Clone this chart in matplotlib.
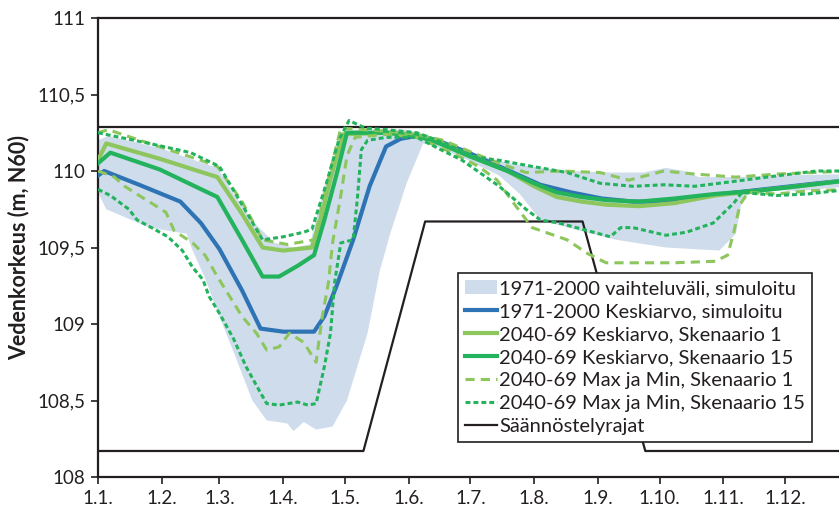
import matplotlib
matplotlib.use("Agg")
import matplotlib.pyplot as plt
from matplotlib.patches import Patch
from matplotlib.lines import Line2D

plt.rcParams['font.family'] = ['Lato', 'DejaVu Sans']

# paivat vuoden alusta (0 = 1.1.)
kk_alku = [0, 31, 59, 90, 120, 151, 181, 212, 243, 273, 304, 334]
kk_nimet = ['1.1.', '1.2.', '1.3.', '1.4.', '1.5.', '1.6.', '1.7.', '1.8.', '1.9.', '1.10.', '1.11.', '1.12.']
y_tikit = [108, 108.5, 109, 109.5, 110, 110.5, 111]
y_nimet = ['108', '108,5', '109', '109,5', '110', '110,5', '111']

# 1971-2000 vaihteluvali (ylaraja / alaraja)
band_ylä_pv = [0, 5, 30, 47, 58, 66, 76, 86, 95, 103, 110, 120, 150, 158, 170, 185, 200, 215, 230, 250,
               265, 276, 285, 292, 310, 330, 365]
band_ylä = [110.2, 110.23, 110.15, 110.07, 110.02, 109.85, 109.66, 109.53, 109.5, 109.52, 109.9, 110.27,
            110.27, 110.24, 110.18, 110.10, 110.05, 110.02, 110.0, 109.99, 109.99, 110.02, 110.0, 109.96,
            109.96, 109.97, 109.98]
band_ala_pv = [0, 4, 25, 43, 46, 52, 59, 67, 75, 82, 92, 95, 100, 106, 114, 121, 126, 131, 137, 142, 150,
               158, 165, 180, 195, 205, 215, 234, 252, 276, 302, 310, 313, 318, 340, 365]
band_ala = [109.86, 109.75, 109.63, 109.59, 109.48, 109.3, 109.05, 108.78, 108.50, 108.37, 108.35, 108.3,
            108.36, 108.31, 108.33, 108.50, 108.72, 108.94, 109.35, 109.59, 109.92, 110.18, 110.16, 110.07,
            109.97, 109.85, 109.68, 109.61, 109.55, 109.50, 109.48, 109.59, 109.81, 109.88, 109.87, 109.90]

# 1971-2000 keskiarvo
sin_pv = [0, 3, 20, 40, 50, 59, 70, 79, 90, 105, 110, 116, 124, 132, 140, 147, 155, 165, 180, 200, 215,
          230, 245, 260, 275, 290, 310, 330, 350, 365]
sin_arvo = [109.97, 110.0, 109.91, 109.80, 109.66, 109.49, 109.22, 108.97, 108.95, 108.95, 109.05, 109.25,
            109.55, 109.90, 110.16, 110.21, 110.23, 110.2, 110.12, 110.0, 109.91, 109.86, 109.82, 109.80,
            109.80, 109.83, 109.86, 109.89, 109.92, 109.94]

# 2040-69 keskiarvo, skenaario 1
vih1_pv = [0, 4, 30, 58, 70, 80, 90, 104, 108, 113, 119, 140, 155, 166, 180, 199, 212, 223, 235, 247, 263,
           280, 300, 320, 340, 365]
vih1_arvo = [110.07, 110.18, 110.08, 109.96, 109.72, 109.50, 109.48, 109.50, 109.68, 109.95, 110.24, 110.25,
             110.23, 110.19, 110.10, 110.0, 109.90, 109.83, 109.80, 109.78, 109.77, 109.79, 109.84, 109.87,
             109.90, 109.94]

# 2040-69 keskiarvo, skenaario 15
vih15_pv = [0, 6, 30, 58, 70, 80, 88, 97, 105, 110, 116, 121, 140, 155, 166, 180, 199, 212, 223, 235, 247,
            263, 280, 300, 320, 340, 365]
vih15_arvo = [110.05, 110.12, 110.01, 109.83, 109.55, 109.31, 109.31, 109.38, 109.45, 109.68, 109.98,
              110.25, 110.25, 110.23, 110.18, 110.10, 110.0, 109.92, 109.86, 109.83, 109.81, 109.80, 109.82,
              109.85, 109.87, 109.90, 109.94]

# 2040-69 max ja min, skenaario 1
max1_pv = [0, 5, 25, 50, 58, 70, 80, 92, 105, 112, 118, 140, 155, 168, 182, 195, 208, 225, 244, 258, 275,
           290, 310, 330, 365]
max1_arvo = [110.25, 110.27, 110.18, 110.07, 110.03, 109.8, 109.55, 109.52, 109.55, 109.95, 110.28, 110.26,
             110.24, 110.2, 110.12, 110.05, 109.99, 110.0, 109.99, 109.94, 110.0, 109.98, 109.96, 109.98, 110.0]
min1_pv = [0, 8, 13, 20, 26, 33, 37, 46, 52, 58, 64, 70, 77, 82, 88, 93, 100, 106, 109, 112, 114, 118, 121,
           125, 140, 155, 172, 185, 194, 202, 211, 228, 238, 247, 263, 280, 300, 306, 309, 312, 316, 330,
           345, 365]
min1_arvo = [110.0, 109.96, 109.9, 109.84, 109.79, 109.73, 109.61, 109.53, 109.45, 109.31, 109.18, 109.05,
             108.94, 108.83, 108.85, 108.94, 108.88, 108.75, 109.05, 109.27, 109.53, 109.84, 110.1, 110.22,
             110.24, 110.22, 110.12, 110.03, 109.94, 109.79, 109.63, 109.55, 109.46, 109.40, 109.40, 109.40,
             109.41, 109.45, 109.6, 109.78, 109.86, 109.85, 109.87, 109.88]

# 2040-69 max ja min, skenaario 15
max15_pv = [0, 25, 45, 59, 70, 80, 90, 100, 104, 111, 117, 122, 130, 140, 155, 165, 184, 195, 211, 228,
            244, 260, 275, 290, 308, 325, 349, 365]
max15_arvo = [110.25, 110.18, 110.12, 110.03, 109.78, 109.55, 109.57, 109.60, 109.62, 109.92, 110.2,
              110.33, 110.28, 110.27, 110.25, 110.2, 110.09, 110.07, 110.03, 109.99, 109.92, 109.9, 109.91,
              109.9, 109.93, 109.96, 110.0, 110.0]
min15_pv = [0, 6, 15, 19, 26, 34, 41, 46, 51, 54, 59, 66, 72, 79, 82, 88, 97, 102, 106, 110, 113, 115, 118,
            124, 126, 128, 131, 140, 155, 165, 177, 195, 208, 215, 224, 238, 249, 254, 260, 276, 286, 299,
            309, 313, 330, 345, 365]
min15_arvo = [109.88, 109.84, 109.75, 109.68, 109.63, 109.57, 109.48, 109.37, 109.29, 109.18, 109.07, 108.90,
              108.72, 108.55, 108.48, 108.47, 108.49, 108.47, 108.48, 108.72, 108.94, 109.27, 109.53, 109.55,
              109.81, 110.14, 110.2, 110.22, 110.22, 110.15, 110.07, 109.9, 109.75, 109.68, 109.66, 109.61,
              109.57, 109.63, 109.63, 109.58, 109.60, 109.66, 109.79, 109.86, 109.84, 109.85, 109.88]

# saannostelyrajat
yläraja_pv = [0, 365]
yläraja = [110.29, 110.29]
alaraja_pv = [0, 129, 159, 235.5, 266, 365]
alaraja = [108.17, 108.17, 109.67, 109.67, 108.17, 108.17]

c_band = '#cfdcec'
c_sin = '#2e74b5'
c_v1 = '#8dc65c'
c_v15 = '#22b35c'
c_musta = '#231f20'

fig = plt.figure(figsize=(8.39, 5.11), dpi=100)
# akseli jatkuu kuvan oikean reunan yli kuten alkuperaisessa
ax = fig.add_axes([98 / 839, 34 / 511, 751 / 839, 459 / 511])

ax.fill(band_ylä_pv + band_ala_pv[::-1], band_ylä + band_ala[::-1], color=c_band, lw=0, zorder=1)

ax.plot(yläraja_pv, yläraja, color=c_musta, lw=1.6, zorder=2)
ax.plot(alaraja_pv, alaraja, color=c_musta, lw=1.6, zorder=2)

ax.plot(sin_pv, sin_arvo, color=c_sin, lw=3, zorder=3)
ax.plot(vih1_pv, vih1_arvo, color=c_v1, lw=3, zorder=4)
ax.plot(vih15_pv, vih15_arvo, color=c_v15, lw=3, zorder=5)

ax.plot(max1_pv, max1_arvo, color=c_v1, lw=2.2, dashes=(3, 2), zorder=6)
ax.plot(min1_pv, min1_arvo, color=c_v1, lw=2.2, dashes=(3, 2), zorder=6)
ax.plot(max15_pv, max15_arvo, color=c_v15, lw=2.2, dashes=(1.6, 1), zorder=7)
ax.plot(min15_pv, min15_arvo, color=c_v15, lw=2.2, dashes=(1.6, 1), zorder=7)

ax.set_xlim(0, 365)
ax.set_ylim(108, 111)
ax.set_xticks(kk_alku)
ax.set_xticklabels(kk_nimet)
ax.set_yticks(y_tikit)
ax.set_yticklabels(y_nimet)
ax.tick_params(axis='both', labelsize=13.5, length=5, width=1.2, color=c_musta, labelcolor=c_musta, pad=4)
for s in ['left', 'bottom', 'top']:
    ax.spines[s].set_linewidth(1.6)
    ax.spines[s].set_color(c_musta)
ax.spines['right'].set_visible(False)
ax.set_ylabel('Vedenkorkeus (m, N60)', fontsize=15.5, fontweight='bold', color=c_musta, labelpad=6)

kahvat = [
    Patch(facecolor=c_band, edgecolor='none'),
    Line2D([], [], color=c_sin, lw=3),
    Line2D([], [], color=c_v1, lw=3),
    Line2D([], [], color=c_v15, lw=3),
    Line2D([], [], color=c_v1, lw=2.2, dashes=(3, 2)),
    Line2D([], [], color=c_v15, lw=2.2, dashes=(1.6, 1)),
    Line2D([], [], color=c_musta, lw=1.6),
]
nimet = ['1971-2000 vaihteluväli, simuloitu', '1971-2000 Keskiarvo, simuloitu',
         '2040-69 Keskiarvo, Skenaario 1', '2040-69 Keskiarvo, Skenaario 15',
         '2040-69 Max ja Min, Skenaario 1', '2040-69 Max ja Min, Skenaario 15',
         'Säännöstelyrajat']
leg = ax.legend(kahvat, nimet, loc='upper left', bbox_to_anchor=(458 / 839, 1 - 273 / 511),
                bbox_transform=fig.transFigure, borderaxespad=0,
                fontsize=14.5, frameon=True, fancybox=False, framealpha=1, edgecolor=c_musta,
                handlelength=1.6, handletextpad=0.1, labelspacing=0.29, borderpad=0.35)
leg.get_frame().set_linewidth(1.2)
for t in leg.get_texts():
    t.set_color(c_musta)

fig.savefig('out.png', dpi=100)
